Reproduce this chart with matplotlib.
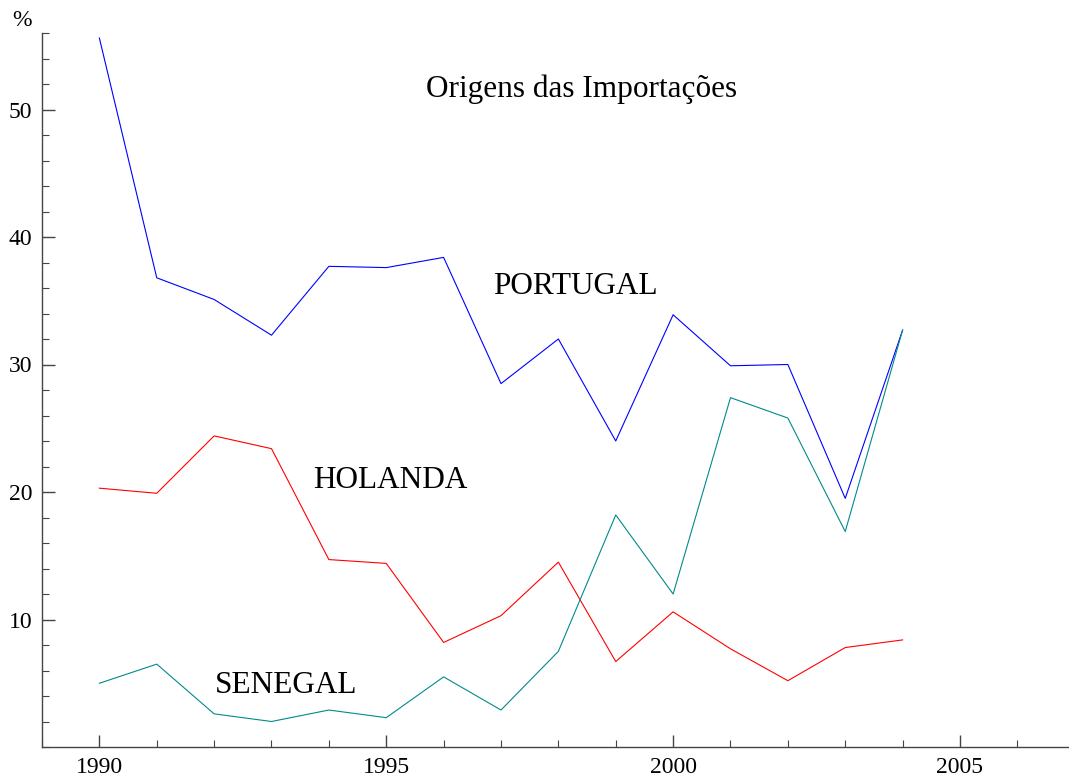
import matplotlib
matplotlib.use("Agg")
import matplotlib.pyplot as plt
from matplotlib.ticker import MultipleLocator

plt.rcParams["font.family"] = ["Liberation Serif", "DejaVu Serif"]

anos = [1990, 1991, 1992, 1993, 1994, 1995, 1996, 1997, 1998, 1999, 2000, 2001, 2002, 2003, 2004]
portugal = [55.6, 36.8, 35.1, 32.3, 37.7, 37.6, 38.4, 28.5, 32.0, 24.0, 33.9, 29.9, 30.0, 19.5, 32.7]
holanda = [20.3, 19.9, 24.4, 23.4, 14.7, 14.4, 8.2, 10.3, 14.5, 6.7, 10.6, 7.7, 5.2, 7.8, 8.4]
senegal = [5.0, 6.5, 2.6, 2.0, 2.9, 2.3, 5.5, 2.9, 7.5, 18.2, 12.0, 27.4, 25.8, 16.9, 32.7]

fig = plt.figure(figsize=(10.69, 7.81), dpi=100)
ax = fig.add_axes([42 / 1069, 34 / 781, 1 - 42 / 1069, (747 - 33) / 781])

ax.plot(anos, portugal, color="#0000ff", lw=0.8)
ax.plot(anos, holanda, color="#ff0000", lw=0.8)
ax.plot(anos, senegal, color="#008b8b", lw=0.8)

ax.set_xlim(1989.0, 2006.9)
ax.set_ylim(0, 56)
ax.xaxis.set_major_locator(MultipleLocator(5))
ax.xaxis.set_minor_locator(MultipleLocator(1))
ax.yaxis.set_major_locator(MultipleLocator(10))
ax.yaxis.set_minor_locator(MultipleLocator(2))
ax.set_yticks([10, 20, 30, 40, 50])

for s in ["top", "right"]:
    ax.spines[s].set_visible(False)
for s in ["left", "bottom"]:
    ax.spines[s].set_color("#444444")
    ax.spines[s].set_linewidth(1.0)

ax.tick_params(which="major", direction="in", length=9, width=1, color="#444444",
               labelsize=17, pad=7)
ax.tick_params(which="minor", direction="in", length=5, width=0.8, color="#444444")

ax.text(1998.4, 51.6, "Origens das Importações", fontsize=22.5, ha="center", va="center")
ax.text(1998.29, 36.1, "PORTUGAL", fontsize=22.5, ha="center", va="center")
ax.text(1995.07, 20.9, "HOLANDA", fontsize=22.5, ha="center", va="center")
ax.text(1993.26, 4.84, "SENEGAL", fontsize=22.5, ha="center", va="center")

fig.text(22 / 1069, 1 - 21 / 781, "%", fontsize=17, ha="center", va="center")

fig.savefig("out.png", dpi=100)
